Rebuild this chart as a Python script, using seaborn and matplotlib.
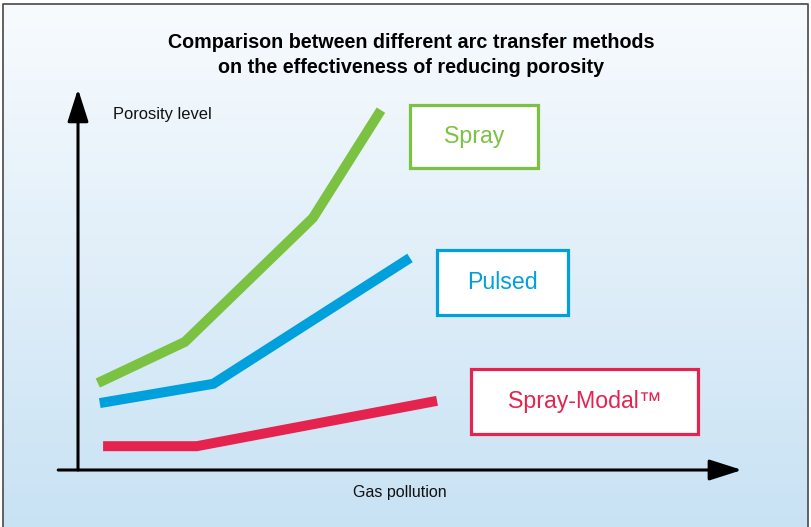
import numpy as np
import pandas as pd
import matplotlib
matplotlib.use("Agg")
import matplotlib.pyplot as plt
from matplotlib.patches import Rectangle, FancyArrowPatch
import seaborn as sns

# values (arbitrary 0-10 units, no ticks in the original)
methods = ["Spray", "Pulsed", "Spray-Modal\u2122"]
spray_x = [0.30, 1.62, 3.56, 4.59]
spray_y = [2.30, 3.39, 6.67, 9.52]
pulsed_x = [0.33, 2.05, 5.03]
pulsed_y = [1.77, 2.28, 5.61]
modal_x = [0.38, 1.80, 5.44]
modal_y = [0.63, 0.63, 1.83]
colors = ["#7cc242", "#00a0dc", "#e5234f"]

title = "Comparison between different arc transfer methods\non the effectiveness of reducing porosity"
y_label = "Porosity level"
x_label = "Gas pollution"

df = pd.concat([
    pd.DataFrame({"gas": spray_x, "porosity": spray_y, "method": methods[0]}),
    pd.DataFrame({"gas": pulsed_x, "porosity": pulsed_y, "method": methods[1]}),
    pd.DataFrame({"gas": modal_x, "porosity": modal_y, "method": methods[2]}),
])

sns.set_theme(style="white")
plt.rcParams["font.family"] = ["Liberation Sans", "DejaVu Sans"]

W, H = 811, 527
fig = plt.figure(figsize=(W / 100, H / 100), dpi=100, facecolor="white")

# background layer in pixel coordinates
bg = fig.add_axes([0, 0, 1, 1])
bg.set_xlim(0, W)
bg.set_ylim(H, 0)
bg.axis("off")
grad = np.linspace(0, 1, 256).reshape(-1, 1)
top = np.array([248, 251, 254]) / 255
bot = np.array([200, 226, 244]) / 255
img = top + grad[..., None] * (bot - top)
bg.imshow(img, extent=[3, 808, 527, 4], aspect="auto", zorder=0)
bg.plot([3, 3, 808, 808], [540, 4, 4, 540], color="#555555", lw=1.3, zorder=1)

bg.text(411, 55, title, ha="center", va="center", fontsize=14.2,
        fontweight="bold", color="black", linespacing=1.35)
bg.text(113, 115, y_label, ha="left", va="center", fontsize=11.9, color="#111111")
bg.text(400, 492, x_label, ha="center", va="center", fontsize=11.5, color="#111111")

boxes = [(410, 105, 128, 63), (437, 250, 131, 65), (471, 369, 227, 65)]
for (bx, by, bw, bh), name, c in zip(boxes, methods, colors):
    bg.add_patch(Rectangle((bx, by), bw, bh, facecolor="white", edgecolor=c, lw=2.3, zorder=2))
    bg.text(bx + bw / 2, by + bh / 2, name, ha="center", va="center",
            fontsize=16.7, color=c, zorder=3)

# chart layer
ax = fig.add_axes([78 / W, 57 / H, 660 / W, 378 / H])
ax.patch.set_alpha(0)
sns.lineplot(data=df, x="gas", y="porosity", hue="method", palette=colors,
             estimator=None, sort=False, lw=7.2, legend=False, ax=ax,
             solid_capstyle="butt", solid_joinstyle="miter")
ax.set_xlim(0, 10)
ax.set_ylim(0, 10)
ax.axis("off")

arrow_style = "-|>,head_length=1.0,head_width=0.32"
ax.add_patch(FancyArrowPatch((0, 0), (0, 10.08), arrowstyle=arrow_style, mutation_scale=20,
                             lw=2.2, color="black", shrinkA=0, shrinkB=0, clip_on=False))
ax.add_patch(FancyArrowPatch((-0.30, 0), (10.06, 0), arrowstyle=arrow_style, mutation_scale=20,
                             lw=2.2, color="black", shrinkA=0, shrinkB=0, clip_on=False))

fig.savefig("out.png", dpi=100)
